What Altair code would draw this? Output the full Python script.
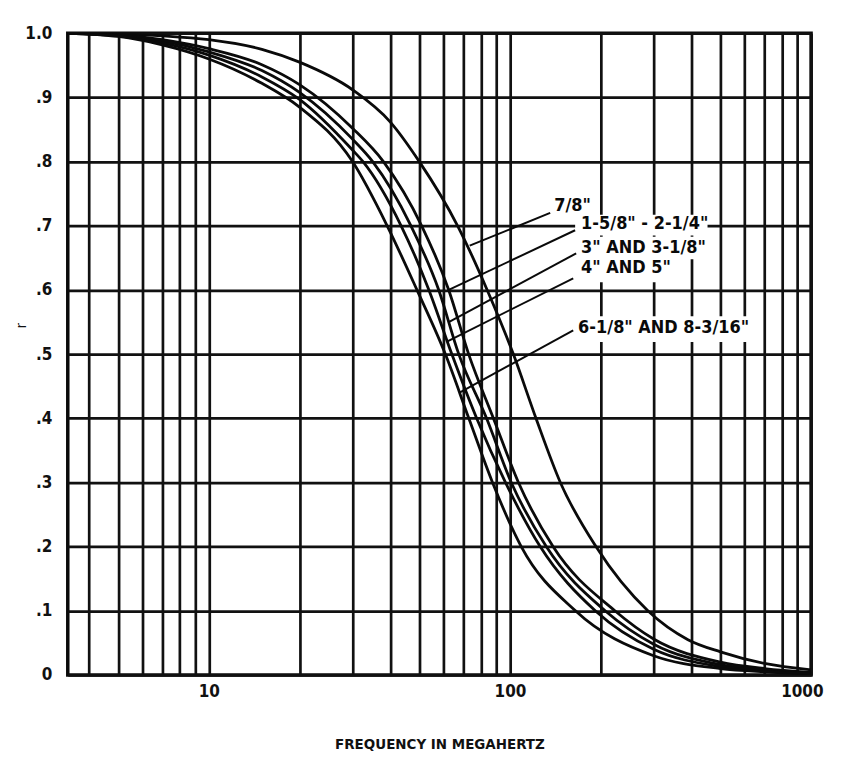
import altair as alt
import pandas as pd

# ---- curve readings (frequency MHz, r) ----
c78_f = [3.4, 5, 7, 10, 15, 20, 30, 40, 50, 67, 84, 102.6, 122, 147, 193, 287, 390, 500, 700, 1000]
c78_r = [1.0, 0.999, 0.996, 0.99, 0.975, 0.955, 0.912, 0.862, 0.80, 0.70, 0.60, 0.50, 0.40, 0.30, 0.20, 0.10, 0.055, 0.036, 0.018, 0.008]

g1_f = [3.4, 5, 7, 10, 15, 20, 30, 38, 50.9, 62.6, 72.9, 88.1, 106.7, 139, 223, 300, 500, 700, 1000]
g1_r = [1.0, 0.998, 0.99, 0.976, 0.951, 0.92, 0.852, 0.80, 0.70, 0.60, 0.50, 0.40, 0.30, 0.20, 0.10, 0.056, 0.02, 0.01, 0.004]

g2_f = [3.4, 5, 7, 10, 15, 20, 30, 35, 46.9, 58, 67.6, 83.6, 101, 132, 207, 300, 500, 700, 1000]
g2_r = [1.0, 0.997, 0.988, 0.971, 0.942, 0.908, 0.835, 0.80, 0.70, 0.60, 0.50, 0.40, 0.30, 0.20, 0.10, 0.048, 0.016, 0.008, 0.003]

g3_f = [3.4, 5, 7, 10, 15, 20, 30, 32.5, 43.5, 53.8, 64.1, 77.5, 96.6, 126, 192, 300, 500, 700, 1000]
g3_r = [1.0, 0.996, 0.985, 0.966, 0.932, 0.897, 0.818, 0.80, 0.70, 0.60, 0.50, 0.40, 0.30, 0.20, 0.10, 0.04, 0.013, 0.006, 0.002]

g4_f = [3.4, 5, 7, 10, 15, 20, 30, 39.1, 49.1, 61, 73, 87.5, 109, 165, 300, 500, 700, 1000]
g4_r = [1.0, 0.995, 0.982, 0.96, 0.922, 0.885, 0.80, 0.70, 0.60, 0.50, 0.40, 0.30, 0.20, 0.10, 0.03, 0.01, 0.005, 0.002]

series_names = ['7/8"', '1-5/8" - 2-1/4"', '3" AND 3-1/8"', '4" AND 5"', '6-1/8" AND 8-3/16"']

# ---- axis ticks ----
x_grid = [4, 5, 6, 7, 8, 9, 10, 20, 30, 40, 50, 60, 70, 80, 90, 100,
          200, 300, 400, 500, 600, 700, 800, 900, 1000]
x_labels = [10, 100, 1000]
y_grid = [0, 0.1, 0.2, 0.3, 0.4, 0.5, 0.6, 0.7, 0.8, 0.9, 1.0]

# ---- annotation (label text, leader lines, white label boxes) ----
label_f = [140.3, 172.3, 172.3, 172.3, 168.4]
label_r = [0.731, 0.702, 0.665, 0.634, 0.540]
lead_f1 = [136.0, 164.6, 165.9, 162.2, 162.2]
lead_r1 = [0.720, 0.693, 0.657, 0.618, 0.537]
lead_f2 = [73.5, 62.6, 62.6, 62.0, 68.0]
lead_r2 = [0.669, 0.600, 0.550, 0.520, 0.440]
box_f1 = [134.0, 164.6, 164.6, 164.6, 162.2]
box_f2 = [193.0, 453.0, 436.0, 322.0, 614.0]
box_r1 = [0.748, 0.717, 0.683, 0.649, 0.559]
box_r2 = [0.716, 0.685, 0.648, 0.612, 0.519]

frames = []
for name, f, r in zip(series_names, [c78_f, g1_f, g2_f, g3_f, g4_f], [c78_r, g1_r, g2_r, g3_r, g4_r]):
    frames.append(pd.DataFrame({"f": f, "r": r, "s": name}))
curves = pd.concat(frames, ignore_index=True)

ann = pd.DataFrame({
    "label": series_names,
    "lf": label_f, "lr": label_r,
    "f1": lead_f1, "r1": lead_r1, "f2": lead_f2, "r2": lead_r2,
    "bf1": box_f1, "bf2": box_f2, "br1": box_r1, "br2": box_r2,
})

FONT = "Liberation Sans Narrow, DejaVu Sans Condensed, Roboto Condensed, Arial Narrow, Liberation Sans, sans-serif"

x_scale = alt.Scale(type="log", domain=[3.4, 1000], nice=False)
y_scale = alt.Scale(domain=[0, 1], nice=False, zero=False)

label_test = " || ".join(f"datum.value == {v}" for v in x_labels)
x_axis = alt.Axis(
    values=x_grid,
    labelExpr=f"({label_test}) ? format(datum.value, 'd') : ''",
    title="FREQUENCY IN MEGAHERTZ",
    ticks=False, domain=False, grid=True,
    gridColor="#111111", gridWidth=2.7, gridOpacity=1,
    labelPadding=9, labelFontSize=17, labelFont=FONT, labelColor="#111111",
    labelFlush=True, labelFlushOffset=12, labelOverlap=False, labelFontWeight="bold",
    titleFont=FONT, titleFontSize=15, titleFontWeight="bold", titleColor="#111111",
    titleY=69, titleBaseline="middle",
)
y_axis = alt.Axis(
    values=y_grid,
    labelExpr="datum.value == 0 ? '0' : (datum.value == 1 ? '1.0' : '.' + format(datum.value * 10, '.0f'))",
    title="r",
    ticks=False, domain=False, grid=True,
    gridColor="#111111", gridWidth=2.7, gridOpacity=1,
    labelPadding=16, labelFontSize=17, labelFont=FONT, labelColor="#111111",
    labelOverlap=False, labelFontWeight="bold",
    titleFont=FONT, titleFontSize=15, titleFontWeight="normal", titleColor="#111111",
    titleX=-47, titleY=293, titleAlign="center", titleBaseline="middle",
)

base_curves = alt.Chart(curves).mark_line(
    color="#0a0a0a", strokeWidth=2.8, interpolate="monotone", clip=True
).encode(
    x=alt.X("f:Q", scale=x_scale, axis=x_axis),
    y=alt.Y("r:Q", scale=y_scale, axis=y_axis),
    detail="s:N",
)

boxes = alt.Chart(ann).mark_rect(color="white", opacity=1).encode(
    x=alt.X("bf1:Q", scale=x_scale),
    x2="bf2:Q",
    y=alt.Y("br1:Q", scale=y_scale),
    y2="br2:Q",
)

leaders = alt.Chart(ann).mark_rule(color="#0a0a0a", strokeWidth=2).encode(
    x=alt.X("f1:Q", scale=x_scale),
    x2="f2:Q",
    y=alt.Y("r1:Q", scale=y_scale),
    y2="r2:Q",
)

texts = alt.Chart(ann).mark_text(
    align="left", baseline="middle", font=FONT, fontSize=18, fontWeight="bold", color="#0a0a0a"
).encode(
    x=alt.X("lf:Q", scale=x_scale),
    y=alt.Y("lr:Q", scale=y_scale),
    text="label:N",
)

chart = alt.layer(boxes, base_curves, leaders, texts).properties(
    width=746, height=644,
    autosize=alt.AutoSizeParams(type="none"),
    padding={"left": 60, "top": 24, "right": 22, "bottom": 84},
    background="white",
).configure_view(
    stroke="#0a0a0a", strokeWidth=3.5
)

chart.save("out.html", embed_options={"renderer": "svg", "actions": False})
